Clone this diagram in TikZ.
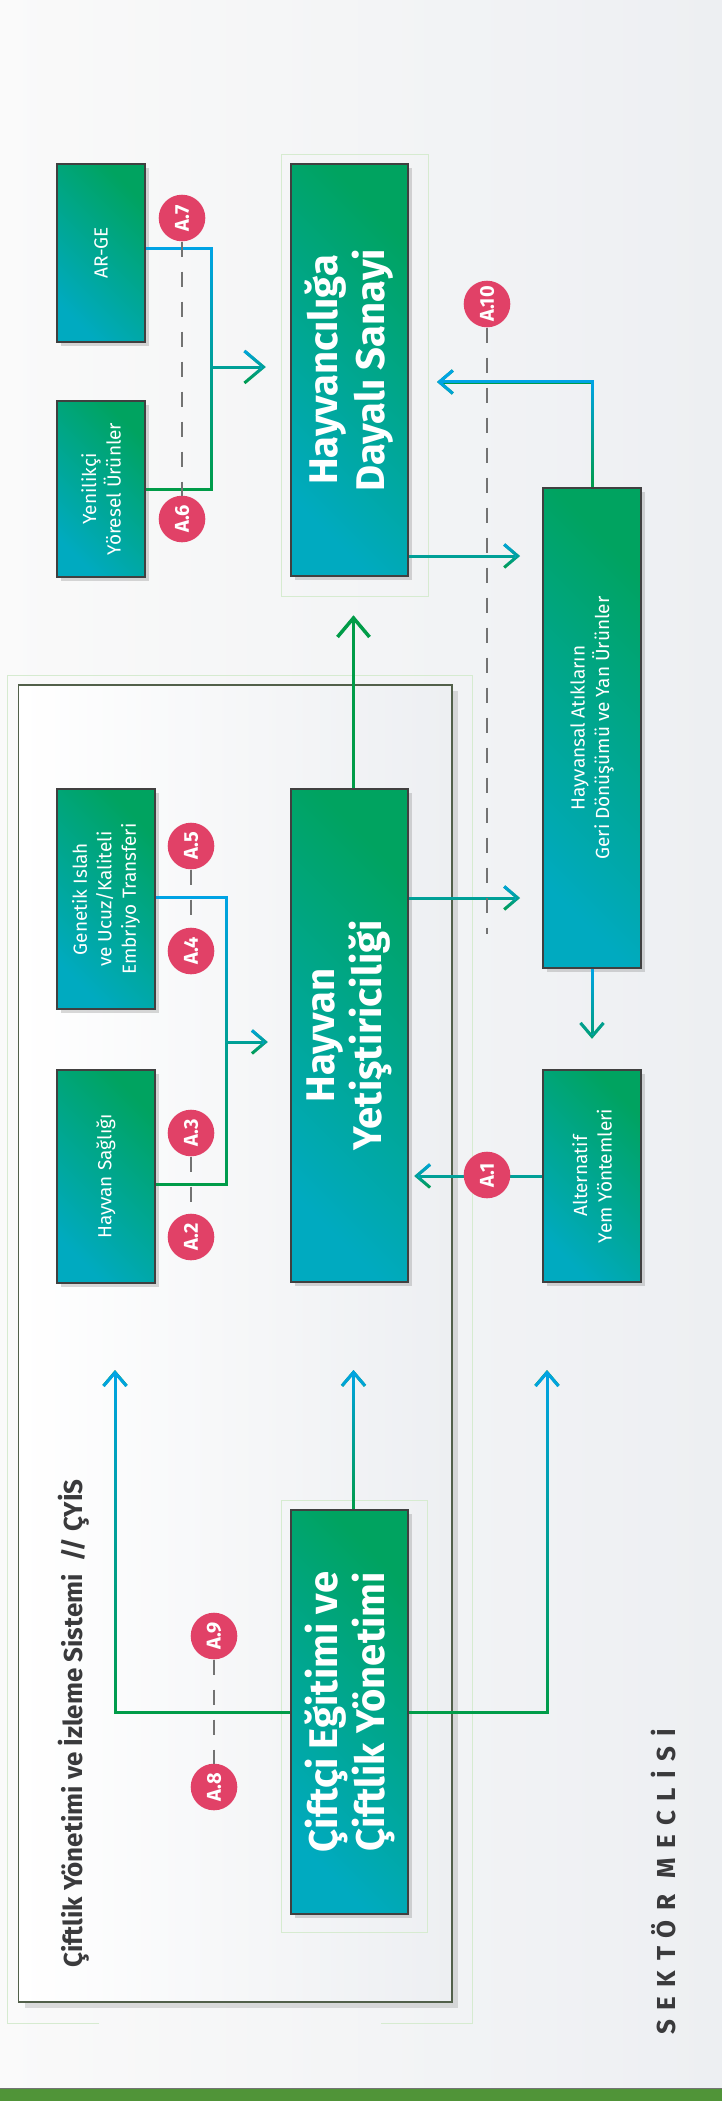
\documentclass[tikz,border=0pt]{standalone}
\usepackage{fontspec}
\setmainfont{Fira Sans}
\usetikzlibrary{arrows.meta,shadows,fadings}

\definecolor{boxgreen}{RGB}{0,163,96}
\definecolor{boxteal}{RGB}{0,170,192}
\definecolor{lineblue}{RGB}{0,164,230}
\definecolor{linegreen}{RGB}{0,156,72}
\definecolor{badgered}{RGB}{225,65,103}
\definecolor{faintgreen}{RGB}{214,235,208}
\definecolor{framedark}{RGB}{82,96,74}
\definecolor{panelgray}{RGB}{237,239,242}
\definecolor{inkgray}{RGB}{58,58,60}
\definecolor{bargreen}{RGB}{80,148,56}

\begin{document}
\begin{tikzpicture}[x=1pt,y=-1pt,
    box/.style={draw=black!75, line width=2.5pt, inner sep=0pt, rotate=90, align=center, text=white,
      top color=boxgreen, bottom color=boxteal, shading angle=-45,
      drop shadow={shadow xshift=4pt, shadow yshift=-4pt, opacity=0.3}},
    smallbox/.style={box, font=\fontsize{19}{24.5}\selectfont},
    bigbox/.style={box, font=\bfseries\fontsize{40}{47}\selectfont},
    badge/.style={circle, fill=badgered, inner sep=0pt, minimum size=46.6pt, rotate=90, text=white,
      font=\bfseries\fontsize{20}{20}\selectfont},
    conn/.style={draw=linegreen, line width=3pt, postaction={draw=lineblue, path fading=south}},
    tip/.style={-{Straight Barb[length=13.5pt,width=23pt]}},
    bigtip/.style={-{Straight Barb[length=19pt,width=32pt]}},
    dashline/.style={draw=black!55, line width=1.5pt, dash pattern=on 15pt off 15pt},
    faint/.style={draw=faintgreen, line width=1pt}]

  \shade[left color=white!98!black, right color=panelgray] (0,0) rectangle (722,2101);
  \useasboundingbox (0,0) rectangle (722,2101);
  \fill[bargreen] (0,2088) rectangle (722,2101);
  \draw[black!55, line width=1pt] (0,2088) -- (722,2088);

  % CYIS panel
  \draw[faint] (99,2023) -- (7,2023) -- (7,675) -- (472,675) -- (472,2023) -- (381,2023);
  \draw[draw=framedark, line width=1.5pt, left color=white, right color=panelgray,
    drop shadow={shadow xshift=6pt, shadow yshift=-6pt, opacity=0.25}] (18.5,685) rectangle (452,2002);
  \draw[faint] (281,154) rectangle (428,596);
  \draw[faint] (281,1500) rectangle (427,1932);

  \node[rotate=90, anchor=base west, inner sep=0pt, text=inkgray, font=\bfseries\fontsize{26}{26}\selectfont]
    (cyis) at (82,1968) {Çiftlik Yönetimi ve İzleme Sistemi~~// ÇYİS};
  \node[rotate=90, anchor=base west, inner sep=0pt, text=inkgray,
    font=\bfseries\fontsize{26}{26}\selectfont\addfontfeature{LetterSpace=37}]
    (meclis) at (675,2035) {SEKTÖR MECLİSİ};

  \node[smallbox, minimum width=178pt, minimum height=88pt] (arge) at (101,253) {AR-GE};
  \node[smallbox, minimum width=176pt, minimum height=88pt] (yerel) at (101,489) {Yenilikçi\\Yöresel Ürünler};
  \node[bigbox, minimum width=412pt, minimum height=117pt] (sanayi) at (349.5,370) {Hayvancılığa\\Dayalı Sanayi};
  \node[smallbox, minimum width=220pt, minimum height=98pt] (genetik) at (106,899) {Genetik Islah\\ve Ucuz/Kaliteli\\Embriyo Transferi};
  \node[smallbox, minimum width=213pt, minimum height=98pt] (saglik) at (106,1176.5) {Hayvan Sağlığı};
  \node[bigbox, minimum width=493pt, minimum height=117pt] (yetistir) at (349.5,1035.5) {Hayvan\\Yetiştiriciliği};
  \node[smallbox, minimum width=480pt, minimum height=98pt] (atik) at (592,728) {Hayvansal Atıkların\\Geri Dönüşümü ve Yan Ürünler};
  \node[smallbox, minimum width=212pt, minimum height=98pt] (yem) at (592,1176) {Alternatif\\Yem Yöntemleri};
  \node[bigbox, minimum width=404pt, minimum height=117pt] (ciftci) at (349.5,1712) {Çiftçi Eğitimi ve\\Çiftlik Yönetimi};

  \coordinate (jn1) at (211,367);
  \coordinate (jn2) at (226,1042);
  \coordinate (backin) at (437,382);
  \coordinate (out1) at (520,556);
  \coordinate (out2) at (520,898);
  \coordinate (upl) at (115,1370);
  \coordinate (upm) at (353.5,1370);
  \coordinate (upr) at (547,1370);
  \coordinate (a10end) at (487,934);

  \draw[conn] ([yshift=5pt]arge.south) -| (jn1) |- (yerel.south);
  \draw[conn,bigtip,shorten >=24pt] (jn1) ++(0,-16) ++(0,32) (jn1) -- (jn1 -| sanayi.north);
  \draw[conn,tip] (atik.east) |- (backin);
  \draw[conn,tip] (out1 -| sanayi.south) ++(0,-12) ++(0,24) (out1 -| sanayi.south) -- (out1);
  \draw[linegreen, line width=3.5pt, bigtip, shorten >=38pt] ([xshift=4pt]yetistir.east) -- ([xshift=4pt]sanayi.west);
  \draw[conn] ([yshift=2pt]genetik.south) -| (jn2) |- ([yshift=-7.5pt]saglik.south);
  \draw[conn,tip,shorten >=22pt] (jn2) ++(0,-12) ++(0,24) (jn2) -- (jn2 -| yetistir.north);
  \draw[conn,tip] (out2 -| yetistir.south) ++(0,-12) ++(0,24) (out2 -| yetistir.south) -- (out2);
  \draw[conn,tip,shorten >=30pt] (atik.west) ++(-12,0) ++(24,0) (atik.west) -- (yem.east);
  \draw[conn,tip,shorten >=5pt] (yem.north) ++(0,-12) ++(0,24) (yem.north) -- (yem.north -| yetistir.south);
  \draw[conn,tip] (ciftci.north) -| (upl);
  \draw[conn,tip] (ciftci.south) -| (upr);
  \draw[conn,tip] ([xshift=4pt]ciftci.east) ++(-12,0) ++(24,0) ([xshift=4pt]ciftci.east) -- (upm);

  \node[badge] (a7) at (182,218) {A.7};
  \node[badge] (a6) at (182,519) {A.6};
  \node[badge] (a5) at (191,846) {A.5};
  \node[badge] (a4) at (191,951) {A.4};
  \node[badge] (a3) at (191,1133) {A.3};
  \node[badge] (a2) at (191,1237) {A.2};
  \node[badge] (a1) at (487,1175) {A.1};
  \node[badge] (a10) at (487,304) {A.10};
  \node[badge] (a9) at (214,1636) {A.9};
  \node[badge] (a8) at (214,1787) {A.8};

  \draw[dashline] (a7) -- (a6);
  \draw[dashline] (a5) -- (a4);
  \draw[dashline] (a3) -- (a2);
  \draw[dashline] (a9) -- (a8);
  \draw[dashline] (a10) -- (a10end);
\end{tikzpicture}
\end{document}
